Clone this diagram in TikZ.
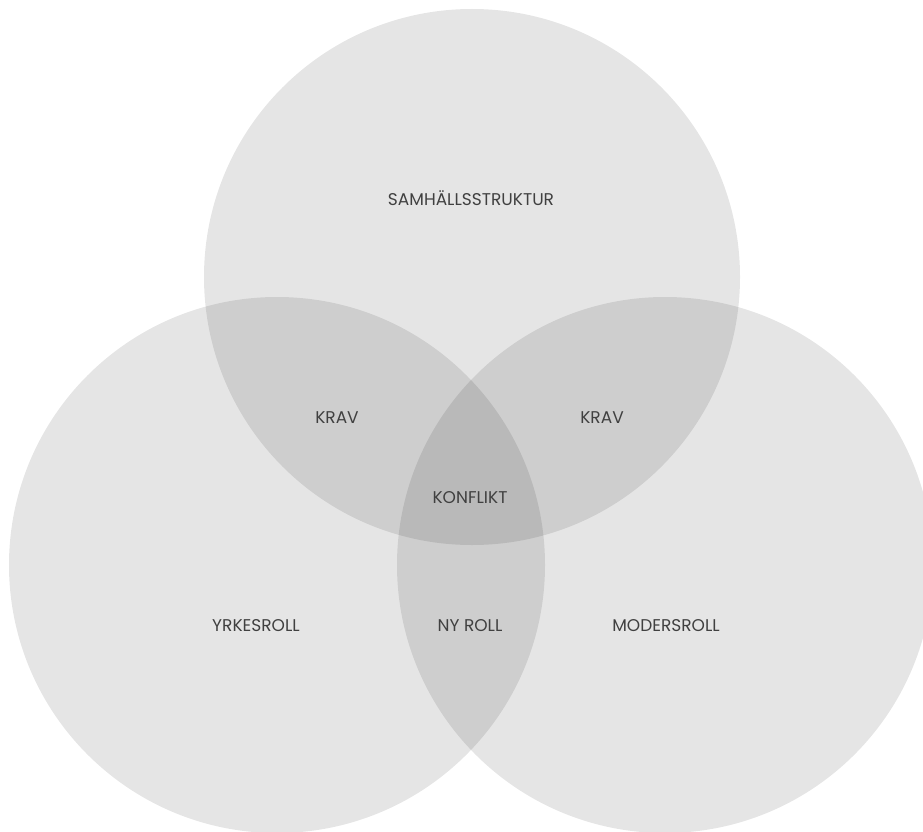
\documentclass[tikz,border=0pt]{standalone}
\usepackage{fontspec}
\setmainfont{Poppins}
\begin{document}
\begin{tikzpicture}  % ------ trois roles -------------------
      [x=1pt,y=-1pt,
       cercle/.style={fill=black,fill opacity=.1},
       etiq/.style={text=black!75,font=\fontsize{17}{19}\selectfont}]
    \useasboundingbox (0,0) rectangle (923,832);
    \coordinate (C1) at (472,277);   % samhalle
    \coordinate (C2) at (277,565);   % yrke
    \coordinate (C3) at (665,565);   % moder
    \fill[cercle] (C1) circle (268);
    \fill[cercle] (C2) circle (268);
    \fill[cercle] (C3) circle (268);
    \node[etiq] (samh) at (471,198) {SAMHÄLLSSTRUKTUR};
    \node[etiq] (krav1) at (337,418) {KRAV};
    \node[etiq] (krav2) at (602,418) {KRAV};
    \node[etiq] (konf) at (470,498) {KONFLIKT};
    \node[etiq] (yrke) at (256,626) {YRKESROLL};
    \node[etiq] (nyroll) at (470,626) {NY ROLL};
    \node[etiq] (moder) at (666,626) {MODERSROLL};
\end{tikzpicture}
\end{document}
